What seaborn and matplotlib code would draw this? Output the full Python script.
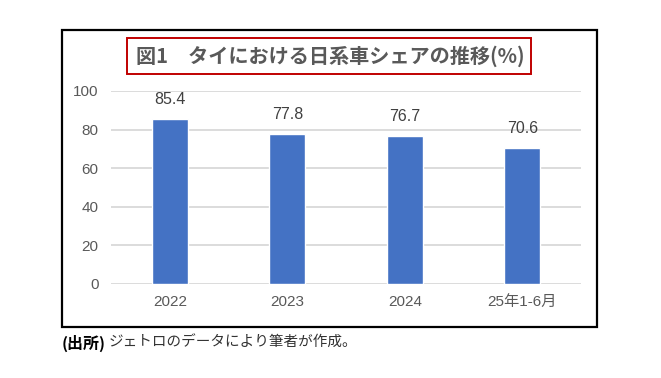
import pandas as pd
import matplotlib.pyplot as plt
import seaborn as sns
from matplotlib.patches import Rectangle

# data
periods = ["2022", "2023", "2024", "25年1-6月"]
shares = [85.4, 77.8, 76.7, 70.6]
y_ticks = [0, 20, 40, 60, 80, 100]

df = pd.DataFrame({"period": periods, "share": shares})

sns.set_theme(style="white")
plt.rcParams["font.family"] = ["Liberation Sans", "Noto Sans CJK JP", "DejaVu Sans"]

fig = plt.figure(figsize=(6.61, 3.78), dpi=100)
ax = fig.add_axes([0.168, 0.2487, 0.711, 0.5106])

sns.barplot(data=df, x="period", y="share", color="#4472C4", width=0.31,
            saturation=1, ax=ax, zorder=3)

ax.set_ylim(0, 100)
ax.set_yticks(y_ticks)
ax.set_xlim(-0.5, len(periods) - 0.5)
ax.yaxis.grid(True, color="#D9D9D9", linewidth=1.3, zorder=0)
ax.set_axisbelow(True)
for s in ax.spines.values():
    s.set_visible(False)
ax.set_xlabel("")
ax.set_ylabel("")
ax.tick_params(axis="both", length=0, labelsize=11, labelcolor="#595959")
ax.tick_params(axis="x", pad=8)
ax.tick_params(axis="y", pad=9)

# value labels
for i, v in enumerate(shares):
    ax.annotate(f"{v:.1f}", (i, v), xytext=(0, 14), textcoords="offset points",
                ha="center", va="center", fontsize=11.5, color="#404040")

# outer frame
fig.patches.append(Rectangle((0.0938, 0.1349), 0.8094, 0.7857, transform=fig.transFigure,
                             fill=False, edgecolor="black", linewidth=1.6))

# title with red box
fig.patches.append(Rectangle((127 / 661, 1 - 74 / 378), 404 / 661, 36 / 378,
                             transform=fig.transFigure, fill=False,
                             edgecolor="#C00000", linewidth=1.4))
fig.text(330 / 661, 1 - 56 / 378, "図1　タイにおける日系車シェアの推移(%)",
         ha="center", va="center", fontsize=14.5, fontweight="bold", color="#595959",
         family=["Noto Sans CJK JP", "DejaVu Sans"])

# source note
fig.text(62 / 661, 1 - 343 / 378, "(出所)", ha="left", va="center",
         fontsize=11.5, fontweight="bold", color="black",
         family=["Noto Sans CJK JP", "DejaVu Sans"])
fig.text(109 / 661, 1 - 343 / 378, "ジェトロのデータにより筆者が作成。", ha="left", va="center",
         fontsize=10.5, color="#333333", family=["Noto Sans CJK JP", "DejaVu Sans"])

fig.savefig("out.png", dpi=100)
